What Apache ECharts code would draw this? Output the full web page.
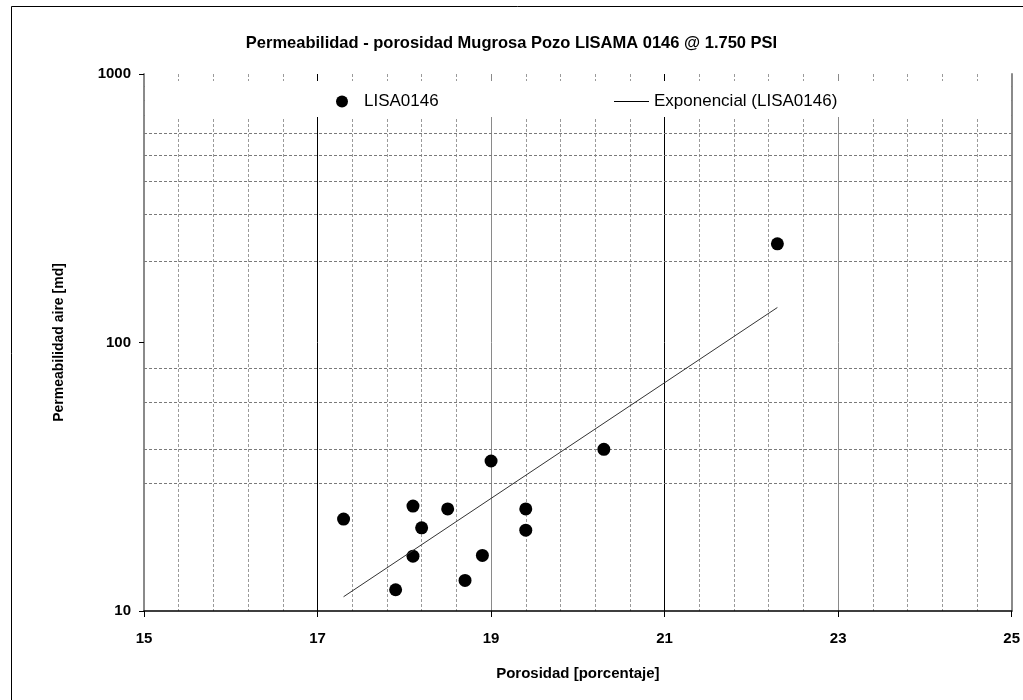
<!DOCTYPE html>
<html>
<head>
<meta charset="utf-8">
<script src="https://cdn.jsdelivr.net/npm/echarts@6/dist/echarts.min.js"></script>
<style>
  html, body { margin: 0; padding: 0; background: #fff; }
  #chart { width: 1023px; height: 700px; }
</style>
</head>
<body>
<div id="chart"></div>
<script>
// Muestras de núcleo del pozo LISAMA 0146: porosidad (%) y permeabilidad al aire (md)
const porosidad      = [17.3, 17.9, 18.1, 18.1, 18.2, 18.5, 18.7, 18.9, 19.0, 19.4, 19.4, 20.3, 22.3];
const permeabilidad  = [22.0, 12.0, 24.6, 16.0, 20.4, 24.0, 13.0, 16.1, 36.2, 24.0, 20.0, 40.0, 233];

// Línea de tendencia exponencial (recta en escala logarítmica): extremos
const tendenciaX = [17.3, 22.3];
const tendenciaY = [11.3, 135];

// Ejes
const ejeX = { min: 15, max: 25, intervalo: 2 };
const ejeY = { min: 10, max: 1000 };

// Líneas horizontales secundarias de la rejilla
const rejillaY = [30, 40, 60, 80, 200, 300, 400, 500, 600, 700, 800, 900];

const nombreSerie = 'LISA0146';
const nombreTendencia = 'Exponencial (LISA0146)';

const FONT = '"Liberation Sans", Arial, sans-serif';

const puntos = porosidad.map((x, i) => [x, permeabilidad[i]]);
const tendencia = tendenciaX.map((x, i) => [x, tendenciaY[i]]);

const chart = echarts.init(document.getElementById('chart'), null, { renderer: 'canvas' });

chart.setOption({
  backgroundColor: '#fff',
  animation: false,
  title: {
    text: 'Permeabilidad - porosidad Mugrosa Pozo LISAMA 0146 @ 1.750 PSI',
    left: 'center',
    top: 35,
    padding: 0,
    textStyle: { fontFamily: FONT, fontSize: 16.5, fontWeight: 'bold', color: '#000' }
  },
  legend: [
    {
      data: [nombreSerie],
      left: 336, top: 93, padding: 0,
      icon: 'circle', itemWidth: 12, itemHeight: 12,
      textStyle: { fontFamily: FONT, fontSize: 17, color: '#000', padding: [0, 0, 0, 11] },
      selectedMode: false
    },
    {
      data: [nombreTendencia],
      left: 614, top: 93, padding: 0,
      icon: 'rect', itemWidth: 35, itemHeight: 1,
      textStyle: { fontFamily: FONT, fontSize: 17, color: '#000' },
      selectedMode: false
    }
  ],
  graphic: [
    {
      type: 'rect', z: 3, silent: true,
      shape: { x: 145, y: 81, width: 866, height: 36 },
      style: { fill: '#fff' }
    },
    {
      type: 'rect', z: 10, silent: true,
      shape: { x: 11.5, y: 6.5, width: 1040, height: 720 },
      style: { fill: 'none', stroke: '#000', lineWidth: 1 }
    }
  ],
  grid: { left: 144, right: 11, top: 74, bottom: 89 },
  xAxis: {
    type: 'value',
    min: ejeX.min, max: ejeX.max, interval: ejeX.intervalo,
    name: 'Porosidad [porcentaje]',
    nameLocation: 'middle',
    nameGap: 55,
    nameTextStyle: { fontFamily: FONT, fontSize: 15, fontWeight: 'bold', color: '#000' },
    axisLine: { show: true, onZero: false, lineStyle: { color: '#000', width: 1.5 } },
    axisTick: { show: true, length: 6, lineStyle: { color: '#000' } },
    axisLabel: { margin: 20, fontFamily: FONT, fontSize: 15, fontWeight: 'bold', color: '#000' },
    splitLine: { show: true, lineStyle: { color: ['#8a8a8a', '#000'], width: 1 } },
    minorTick: { show: false, splitNumber: 5 },
    minorSplitLine: { show: true, lineStyle: { color: '#9a9a9a', type: [3, 2], width: 1 } }
  },
  yAxis: [
    {
      type: 'log', logBase: 10,
      min: ejeY.min, max: ejeY.max,
      name: 'Permeabilidad aire [md]',
      nameLocation: 'middle',
      nameGap: 78,
      nameTextStyle: { fontFamily: FONT, fontSize: 14, fontWeight: 'bold', color: '#000' },
      axisLine: { show: true, lineStyle: { color: '#8a8a8a', width: 2 } },
      axisTick: { show: true, length: 5, lineStyle: { color: '#000' } },
      axisLabel: {
        margin: 13, fontFamily: FONT, fontSize: 15, fontWeight: 'bold', color: '#000',
        formatter: v => String(Math.round(v))
      },
      splitLine: { show: false }
    },
    {
      type: 'log', logBase: 10,
      min: ejeY.min, max: ejeY.max,
      position: 'right',
      axisLine: { show: true, lineStyle: { color: '#8a8a8a', width: 2 } },
      axisTick: { show: false },
      axisLabel: { show: false },
      splitLine: { show: false }
    }
  ],
  series: [
    {
      name: nombreTendencia,
      type: 'line',
      data: tendencia,
      showSymbol: false,
      symbol: 'none',
      lineStyle: { color: '#333', width: 1 },
      itemStyle: { color: '#000' },
      markLine: {
        z: 1,
        silent: true,
        symbol: 'none',
        label: { show: false },
        lineStyle: { color: '#7a7a7a', type: [3, 2], width: 1 },
        data: rejillaY.map(v => ({ yAxis: v }))
      }
    },
    {
      name: nombreSerie,
      type: 'scatter',
      data: puntos,
      symbol: 'circle',
      symbolSize: 13,
      itemStyle: { color: '#000', opacity: 1 }
    }
  ]
});
</script>
</body>
</html>
